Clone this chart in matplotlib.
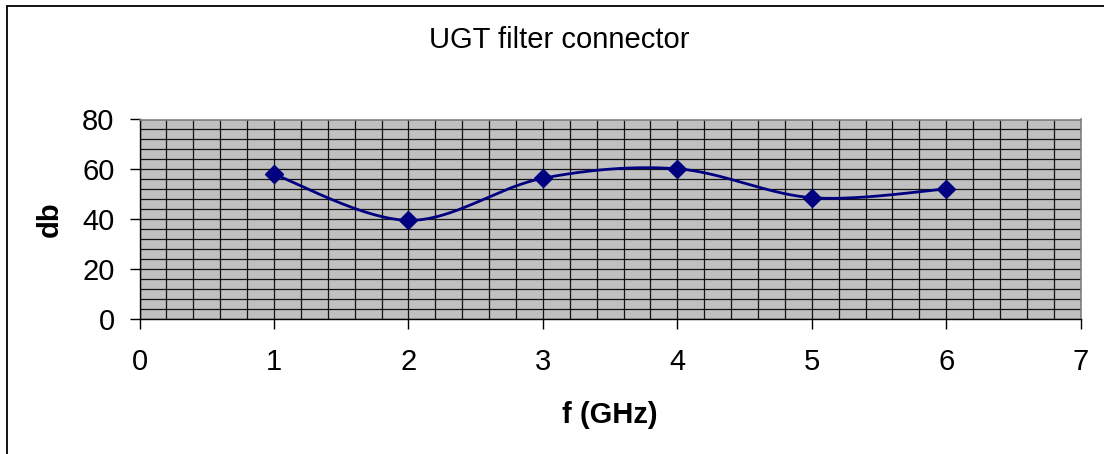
import numpy as np
import matplotlib
matplotlib.use("Agg")
import matplotlib.pyplot as plt
from matplotlib.patches import Rectangle
from matplotlib.ticker import MultipleLocator

freq_ghz = [1, 2, 3, 4, 5, 6]
db_values = [58.0, 39.5, 56.4, 60.2, 48.6, 52.1]
x_ticks = [0, 1, 2, 3, 4, 5, 6, 7]
y_ticks = [0, 20, 40, 60, 80]
title = "UGT filter connector"
xlabel = "f (GHz)"
ylabel = "db"

plt.rcParams['font.family'] = ['Liberation Sans', 'DejaVu Sans']

W, H = 1104, 454
fig = plt.figure(figsize=(W / 100, H / 100), dpi=100)

# Outer chart border (extends past right/bottom edges)
fig.patches.append(Rectangle((7 / W, -0.1), 1.2, 1 - 6 / H + 0.1,
                             transform=fig.transFigure, fill=False,
                             edgecolor='black', linewidth=1.3))

left, right = 139.5 / W, 1080.7 / W
top, bottom = 1 - 119.5 / H, 1 - 318.7 / H
ax = fig.add_axes([left, bottom, right - left, top - bottom])
ax.set_facecolor('#C0C0C0')

ax.set_xlim(0, 7)
ax.set_ylim(0, 80)
ax.set_xticks(x_ticks)
ax.set_yticks(y_ticks)
ax.xaxis.set_minor_locator(MultipleLocator(0.2))
ax.yaxis.set_minor_locator(MultipleLocator(4))
ax.grid(which='both', color='black', linewidth=0.9, alpha=0.9)
ax.set_axisbelow(True)
ax.tick_params(axis='x', which='major', length=7, width=1, color='black',
               labelsize=21, pad=14, direction='out')
ax.tick_params(axis='y', which='major', length=7, width=1, color='black',
               labelsize=21, pad=11, direction='out')
ax.tick_params(which='minor', length=0)

for s in ['top', 'right']:
    ax.spines[s].set_color('#808080')
    ax.spines[s].set_linewidth(1.2)
for s in ['left', 'bottom']:
    ax.spines[s].set_color('black')
    ax.spines[s].set_linewidth(1.0)

# Smoothed line (Catmull-Rom style Bezier between data points, like Excel)
xs = np.array(freq_ghz, dtype=float)
ys = np.array(db_values, dtype=float)
px = np.concatenate([[xs[0]], xs, [xs[-1]]])
py = np.concatenate([[ys[0]], ys, [ys[-1]]])
cx, cy = [], []
t = np.linspace(0, 1, 40)
for i in range(1, len(px) - 2):
    p0 = np.array([px[i], py[i]])
    p3 = np.array([px[i + 1], py[i + 1]])
    c1 = p0 + (np.array([px[i + 1], py[i + 1]]) - np.array([px[i - 1], py[i - 1]])) / 6
    c2 = p3 - (np.array([px[i + 2], py[i + 2]]) - np.array([px[i], py[i]])) / 6
    for tt in t:
        b = ((1 - tt) ** 3) * p0 + 3 * ((1 - tt) ** 2) * tt * c1 + 3 * (1 - tt) * tt ** 2 * c2 + tt ** 3 * p3
        cx.append(b[0])
        cy.append(b[1])
ax.plot(cx, cy, color='#000080', linewidth=2, zorder=3)
ax.plot(xs, ys, linestyle='none', marker='D', markersize=9,
        color='#000080', zorder=4)

fig.text((left + right) / 2, 1 - 415 / H, xlabel, fontsize=21,
         fontweight='bold', ha='center', va='center')
fig.text(50 / W, (top + bottom) / 2, ylabel, fontsize=21,
         fontweight='bold', ha='center', va='center', rotation=90)
fig.text(0.507, 1 - 40 / H, title, fontsize=21, ha='center', va='center')

fig.savefig('out.png', dpi=100)
